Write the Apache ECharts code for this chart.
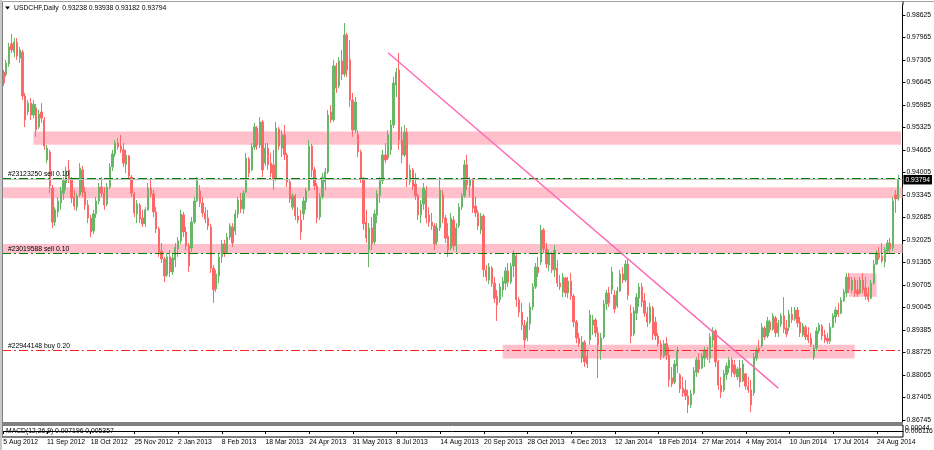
<!DOCTYPE html>
<html><head><meta charset="utf-8">
<script src="https://cdn.jsdelivr.net/npm/echarts@6/dist/echarts.min.js"></script>
<style>html,body{margin:0;padding:0;background:#fff}#c{width:934px;height:450px}</style>
</head><body><div id="c"></div>
<script>
// time-scale labels (one every 16 candles)
const dateLabels = ['5 Aug 2012','11 Sep 2012','18 Oct 2012','25 Nov 2012','2 Jan 2013','8 Feb 2013','18 Mar 2013','24 Apr 2013','31 May 2013','8 Jul 2013','14 Aug 2013','20 Sep 2013','28 Oct 2013','4 Dec 2013','12 Jan 2014','18 Feb 2014','27 Mar 2014','4 May 2014','10 Jun 2014','17 Jul 2014','24 Aug 2014'];
const labelStep = 16;
const priceTicks = ['0.98625','0.97965','0.97305','0.96645','0.95985','0.95325','0.94665','0.94005','0.93345','0.92685','0.92025','0.91365','0.90705','0.90045','0.89385','0.88725','0.88065','0.87405','0.86745'];

const opens = [
.9695,.9687,.9719,.9778,.9754,.9783,.9736,.9754,.9625,.9578,
.9604,.9569,.9590,.9534,.9578,.9555,.9437,.9461,.9355,.9255,
.9285,.9311,.9340,.9370,.9408,.9379,.9329,.9299,.9335,.9408,
.9343,.9305,.9267,.9229,.9279,.9317,.9358,.9340,.9308,.9358,
.9417,.9455,.9487,.9478,.9467,.9423,.9449,.9387,.9338,.9279,
.9305,.9267,.9250,.9291,.9355,.9338,.9285,.9235,.9170,.9147,
.9100,.9153,.9109,.9144,.9176,.9200,.9276,.9226,.9185,.9179,
.9255,.9317,.9346,.9311,.9282,.9267,.9241,.9120,.9059,.9097,
.9153,.9191,.9167,.9211,.9241,.9229,.9279,.9320,.9294,.9343,
.9440,.9408,.9475,.9531,.9481,.9549,.9428,.9472,.9428,.9423,
.9384,.9528,.9472,.9511,.9452,.9373,.9299,.9332,.9273,.9261,
.9279,.9314,.9349,.9478,.9408,.9361,.9270,.9329,.9373,.9402,
.9578,.9555,.9713,.9654,.9728,.9689,.9804,.9731,.9613,.9525,
.9511,.9461,.9384,.9255,.9173,.9238,.9197,.9276,.9332,.9376,
.9452,.9443,.9467,.9540,.9657,.9701,.9496,.9452,.9519,.9373,
.9408,.9367,.9332,.9276,.9308,.9349,.9276,.9255,.9244,.9197,
.9238,.9335,.9267,.9214,.9179,.9261,.9185,.9244,.9299,.9332,
.9423,.9361,.9379,.9302,.9282,.9232,.9273,.9115,.9085,.9120,
.9076,.9038,.9027,.9056,.9076,.9112,.9079,.9126,.9156,.9027,
.8991,.8953,.8915,.8956,.9006,.9065,.9123,.9138,.9232,.9176,
.9129,.9162,.9115,.9120,.9076,.9050,.9091,.9047,.9082,.9038,
.8962,.8915,.8856,.8903,.8862,.8909,.8953,.8968,.8930,.8880,
.8918,.9015,.9047,.9056,.9041,.9009,.9053,.9103,.9085,.9132,
.8988,.8927,.8988,.9032,.9065,.9024,.8988,.8962,.9003,.8962,
.8921,.8898,.8862,.8898,.8865,.8798,.8786,.8833,.8807,.8768,
.8763,.8745,.8719,.8754,.8815,.8851,.8827,.8856,.8880,.8856,
.8909,.8936,.8845,.8777,.8763,.8807,.8827,.8851,.8836,.8801,
.8827,.8789,.8810,.8774,.8763,.8754,.8856,.8886,.8892,.8944,
.8921,.8962,.8941,.8974,.8930,.8956,.8980,.8944,.8947,.8985,
.8971,.8997,.8962,.8924,.8947,.8924,.8915,.8859,.8886,.8936,
.8950,.8924,.8915,.8906,.8947,.8977,.8997,.8988,.9024,.9047,
.9094,.9056,.9085,.9056,.9047,.9085,.9062,.9044,.9032,.9076,
.9132,.9164,.9156,.9138,.9170,.9194,.9179,.9335,.93238];

const highs = [
.9701,.9731,.9781,.9807,.9795,.9795,.9769,.9760,.9634,.9613,
.9619,.9613,.9601,.9584,.9604,.9563,.9481,.9467,.9364,.9299,
.9329,.9358,.9387,.9417,.9437,.9387,.9349,.9340,.9428,.9420,
.9358,.9320,.9276,.9291,.9329,.9370,.9387,.9358,.9370,.9428,
.9467,.9496,.9502,.9511,.9487,.9467,.9452,.9393,.9343,.9320,
.9311,.9291,.9299,.9370,.9379,.9349,.9299,.9241,.9194,.9153,
.9164,.9173,.9164,.9194,.9211,.9291,.9285,.9241,.9194,.9270,
.9329,.9387,.9364,.9329,.9299,.9291,.9250,.9129,.9115,.9164,
.9203,.9203,.9223,.9252,.9252,.9291,.9329,.9340,.9349,.9458,
.9446,.9487,.9546,.9537,.9563,.9555,.9487,.9487,.9458,.9467,
.9549,.9534,.9525,.9540,.9458,.9379,.9340,.9338,.9299,.9291,
.9329,.9355,.9496,.9484,.9417,.9370,.9340,.9399,.9414,.9584,
.9598,.9731,.9722,.9739,.9760,.9839,.9810,.9789,.9634,.9622,
.9525,.9467,.9387,.9291,.9252,.9270,.9291,.9349,.9387,.9467,
.9487,.9525,.9555,.9681,.9707,.9751,.9534,.9540,.9531,.9423,
.9414,.9399,.9338,.9320,.9370,.9361,.9299,.9282,.9252,.9252,
.9387,.9349,.9276,.9252,.9282,.9273,.9252,.9311,.9340,.9437,
.9452,.9387,.9384,.9329,.9291,.9282,.9279,.9129,.9135,.9126,
.9094,.9056,.9076,.9094,.9123,.9135,.9135,.9173,.9162,.9035,
.9018,.8968,.8977,.9018,.9076,.9135,.9153,.9247,.9238,.9194,
.9173,.9167,.9188,.9144,.9100,.9106,.9094,.9094,.9106,.9044,
.8968,.8930,.8921,.8909,.8880,.8997,.8983,.8974,.8947,.8930,
.9027,.9056,.9065,.9123,.9056,.9065,.9115,.9123,.9144,.9150,
.9012,.9006,.9047,.9076,.9076,.9047,.9006,.9018,.9009,.8977,
.8930,.8909,.8909,.8918,.8889,.8830,.8851,.8889,.8812,.8801,
.8792,.8763,.8763,.8830,.8859,.8871,.8871,.8889,.8889,.8930,
.8947,.8941,.8851,.8801,.8821,.8842,.8859,.8859,.8851,.8830,
.8851,.8851,.8812,.8801,.8792,.8871,.8889,.8909,.8959,.8950,
.8977,.8968,.8988,.8980,.8968,.8988,.9035,.8968,.8997,.9006,
.9006,.9006,.8977,.8959,.8953,.8947,.8930,.8895,.8947,.8959,
.8956,.8939,.8930,.8959,.8988,.9006,.9018,.9035,.9059,.9106,
.9106,.9094,.9094,.9085,.9094,.9106,.9094,.9065,.9085,.9144,
.9173,.9182,.9194,.9182,.9203,.9208,.9329,.9349,.93938];

const lows = [
.9654,.9681,.9710,.9751,.9739,.9731,.9722,.9613,.9534,.9569,
.9555,.9560,.9505,.9528,.9546,.9467,.9428,.9340,.9238,.9244,
.9270,.9291,.9320,.9349,.9370,.9311,.9291,.9288,.9329,.9329,
.9291,.9252,.9211,.9220,.9267,.9308,.9329,.9291,.9302,.9352,
.9405,.9446,.9467,.9458,.9417,.9399,.9379,.9329,.9270,.9252,
.9252,.9241,.9241,.9288,.9329,.9270,.9223,.9153,.9135,.9079,
.9094,.9094,.9100,.9123,.9153,.9191,.9211,.9173,.9109,.9167,
.9250,.9314,.9299,.9270,.9252,.9232,.9106,.9018,.9050,.9076,
.9135,.9153,.9162,.9203,.9182,.9217,.9267,.9282,.9279,.9340,
.9387,.9405,.9467,.9467,.9472,.9387,.9420,.9408,.9387,.9349,
.9376,.9467,.9446,.9437,.9358,.9311,.9291,.9261,.9252,.9203,
.9261,.9291,.9346,.9387,.9349,.9252,.9261,.9323,.9349,.9396,
.9546,.9549,.9634,.9648,.9672,.9681,.9681,.9593,.9505,.9516,
.9446,.9370,.9232,.9194,.9123,.9173,.9188,.9252,.9311,.9367,
.9428,.9437,.9452,.9531,.9622,.9467,.9428,.9446,.9358,.9364,
.9349,.9320,.9261,.9252,.9291,.9252,.9241,.9232,.9173,.9188,
.9229,.9252,.9194,.9153,.9173,.9173,.9167,.9238,.9291,.9326,
.9349,.9329,.9282,.9270,.9232,.9220,.9094,.9082,.9073,.9065,
.9018,.8965,.9018,.9035,.9056,.9065,.9073,.9094,.9006,.8977,
.8939,.8886,.8906,.8939,.8997,.9059,.9094,.9129,.9164,.9120,
.9112,.9106,.9094,.9065,.9056,.9035,.9035,.9032,.9027,.8947,
.8900,.8889,.8842,.8830,.8827,.8895,.8924,.8918,.8798,.8851,
.8912,.8997,.9006,.9044,.8988,.9003,.9050,.9076,.9079,.9027,
.8900,.8921,.8968,.9006,.9006,.8977,.8947,.8956,.8909,.8909,
.8889,.8851,.8856,.8851,.8771,.8771,.8780,.8812,.8754,.8742,
.8733,.8695,.8710,.8748,.8801,.8812,.8824,.8830,.8851,.8842,
.8889,.8830,.8763,.8739,.8757,.8792,.8812,.8801,.8801,.8792,
.8771,.8786,.8763,.8754,.8698,.8745,.8848,.8871,.8886,.8909,
.8915,.8930,.8936,.8918,.8918,.8947,.8930,.8918,.8936,.8959,
.8965,.8947,.8918,.8918,.8909,.8900,.8889,.8851,.8877,.8927,
.8909,.8900,.8898,.8898,.8944,.8959,.8977,.8985,.9021,.9035,
.9047,.9047,.9035,.9035,.9044,.9047,.9027,.9021,.9029,.9071,
.9129,.9144,.9135,.9123,.9164,.9164,.9170,.9282,.93182];

const closes = [
.9663,.9722,.9769,.9760,.9783,.9742,.9760,.9625,.9555,.9604,
.9569,.9601,.9525,.9572,.9560,.9478,.9472,.9361,.9255,.9291,
.9317,.9346,.9376,.9405,.9381,.9326,.9302,.9332,.9414,.9343,
.9305,.9267,.9226,.9279,.9317,.9358,.9340,.9305,.9358,.9417,
.9455,.9487,.9475,.9467,.9428,.9452,.9390,.9340,.9282,.9308,
.9264,.9250,.9291,.9355,.9338,.9285,.9235,.9167,.9147,.9097,
.9153,.9109,.9150,.9182,.9200,.9279,.9226,.9185,.9126,.9255,
.9317,.9376,.9311,.9282,.9264,.9244,.9120,.9056,.9103,.9153,
.9191,.9164,.9211,.9244,.9194,.9279,.9320,.9294,.9340,.9443,
.9399,.9475,.9534,.9481,.9549,.9408,.9472,.9423,.9399,.9379,
.9531,.9478,.9511,.9452,.9373,.9323,.9332,.9273,.9261,.9226,
.9317,.9346,.9478,.9408,.9361,.9267,.9329,.9387,.9402,.9569,
.9555,.9713,.9648,.9728,.9689,.9804,.9701,.9613,.9525,.9607,
.9461,.9384,.9250,.9208,.9238,.9191,.9279,.9338,.9376,.9452,
.9437,.9511,.9540,.9663,.9695,.9496,.9452,.9519,.9379,.9408,
.9361,.9332,.9276,.9308,.9355,.9267,.9255,.9244,.9191,.9238,
.9349,.9267,.9208,.9173,.9267,.9185,.9238,.9299,.9332,.9423,
.9364,.9379,.9296,.9282,.9244,.9273,.9115,.9094,.9123,.9076,
.9032,.9012,.9065,.9082,.9112,.9079,.9126,.9162,.9027,.8991,
.8953,.8909,.8962,.9006,.9065,.9123,.9106,.9232,.9176,.9132,
.9164,.9115,.9173,.9076,.9065,.9094,.9047,.9082,.9038,.8962,
.8915,.8898,.8903,.8845,.8839,.8983,.8968,.8930,.8895,.8915,
.9015,.9047,.9018,.9109,.9000,.9053,.9103,.9085,.9132,.9041,
.8921,.8994,.9035,.9065,.9021,.8988,.8962,.9006,.8927,.8921,
.8898,.8862,.8898,.8865,.8792,.8780,.8839,.8877,.8766,.8754,
.8745,.8719,.8751,.8818,.8851,.8824,.8862,.8880,.8859,.8918,
.8936,.8845,.8777,.8757,.8810,.8833,.8851,.8815,.8810,.8824,
.8786,.8839,.8774,.8763,.8719,.8859,.8880,.8877,.8947,.8918,
.8965,.8939,.8980,.8930,.8959,.8980,.8941,.8927,.8985,.8968,
.8997,.8959,.8930,.8950,.8918,.8909,.8895,.8886,.8936,.8953,
.8921,.8909,.8906,.8947,.8980,.8997,.8985,.9027,.9050,.9094,
.9059,.9085,.9047,.9044,.9085,.9056,.9038,.9029,.9076,.9132,
.9164,.9150,.9141,.9173,.9194,.9176,.9317,.9323,.93794];

// pink rectangles: [startIndex|null, endIndex|null, priceTop, priceBottom]
const zoneStart = [11, null, null, 183, 310];
const zoneEnd   = [329, null, null, 312, 320];
const zoneTop   = [0.9521, 0.9357, 0.9191, 0.8895, 0.9105];
const zoneBot   = [0.9482, 0.9325, 0.9164, 0.8855, 0.9036];
// order lines
const orderPrices = [0.9384, 0.9164, 0.8879];
const orderTexts  = ['#23123250 sell 0.10', '#23019588 sell 0.10', '#22944148 buy 0.20'];
const orderColors = ['#008000', '#008000', '#ff2020'];
// trend line: [candle index, price]
const trendFrom = [141, 0.9752];
const trendTo   = [284, 0.8768];
const macdText = 'MACD(12,26,9) 0.007196 0.005357';
const macdAxisTexts = ['0.00044', '0.006116'];

const N = opens.length;
const last = N - 1;
const categories = opens.map((_, i) => String(i)).concat(['']);
const candleData = opens.map((o, i) => [o, closes[i], lows[i], highs[i]]);
const tickVals = priceTicks.map(Number);
const F = 'Liberation Sans';
const FS = 6.8;

const areas = zoneTop.map((t, i) => {
  const a = {yAxis: t}, b = {yAxis: zoneBot[i]};
  if (zoneStart[i] !== null) { a.xAxis = zoneStart[i]; b.xAxis = zoneEnd[i]; }
  return [a, b];
});

function lineSeries(data, lineStyle, label) {
  return {
    type: 'line', xAxisIndex: 0, yAxisIndex: 0, data: [], silent: true,
    markLine: {silent: true, symbol: ['none', 'none'], precision: 6, animation: false,
      lineStyle: lineStyle, label: label, data: data}
  };
}

const extraSeries = orderPrices.map((p, i) => lineSeries(
  [{yAxis: p}],
  {color: orderColors[i], width: 1, type: [9, 3, 2, 3], opacity: 1},
  {show: true, position: 'insideStartTop', formatter: orderTexts[i], color: '#000', fontSize: FS, fontFamily: F, distance: [6, 0.5]}
));
extraSeries.push(lineSeries(
  [{yAxis: closes[last]}],
  {color: '#c0c0c0', width: 1, type: 'solid', opacity: 1},
  {show: true, position: 'end', formatter: closes[last].toFixed(5), color: '#fff', backgroundColor: '#000', fontSize: FS, fontFamily: F, padding: [1.5, 2, 1, 2], distance: 1}
));
extraSeries.push(lineSeries(
  [[{coord: trendFrom}, {coord: trendTo}]],
  {color: '#ff69b4', width: 1.4, type: 'solid', opacity: 1},
  {show: false}
));

const chart = echarts.init(document.getElementById('c'));
chart.setOption({
  animation: false,
  backgroundColor: '#fff',
  textStyle: {fontFamily: F},
  grid: [
    {left: 2, right: 31, top: 5, height: 418, show: false},
    {left: 2, right: 31, top: 425, height: 12, show: true, borderColor: '#000', borderWidth: 1, backgroundColor: '#fff'}
  ],
  xAxis: [
    {type: 'category', gridIndex: 0, data: categories, boundaryGap: true, show: false},
    {type: 'category', gridIndex: 1, data: categories, boundaryGap: true,
     axisLine: {show: true, lineStyle: {color: '#000', width: 1}},
     axisTick: {show: true, alignWithLabel: true, length: 3, interval: (i) => i % labelStep === 0, lineStyle: {color: '#000'}},
     axisLabel: {show: true, interval: (i) => i % labelStep === 0, align: 'left', margin: 2, fontSize: FS, color: '#000', fontFamily: F,
       formatter: (v, i) => dateLabels[Math.round(i / labelStep)] || ''},
     splitLine: {show: false}}
  ],
  yAxis: [
    {type: 'value', gridIndex: 0, position: 'right', min: 0.86658, max: 0.98918, scale: true,
     axisLine: {show: true, lineStyle: {color: '#000', width: 1}},
     axisTick: {show: true, length: 3, customValues: tickVals, lineStyle: {color: '#000'}},
     axisLabel: {show: true, customValues: tickVals, formatter: (v) => Number(v).toFixed(5), fontSize: FS, color: '#000', margin: 4, fontFamily: F},
     splitLine: {show: false}},
    {type: 'value', gridIndex: 1, show: false, min: -1, max: 1}
  ],
  series: [{
    type: 'candlestick', xAxisIndex: 0, yAxisIndex: 0, data: candleData,
    barWidth: 1.8, z: 3,
    itemStyle: {color: '#66b866', color0: '#ff6868', borderColor: '#66b866', borderColor0: '#ff6868', borderWidth: 1},
    markArea: {silent: true, itemStyle: {color: '#ffc0cb'}, label: {show: false}, data: areas}
  }].concat(extraSeries),
  graphic: [
    {type: 'rect', shape: {x: 0, y: 0, width: 2, height: 450}, style: {fill: '#c8c8c8'}, z: 100},
    {type: 'line', shape: {x1: 2.5, y1: 2, x2: 2.5, y2: 437}, style: {stroke: '#7f7f7f', lineWidth: 1}, z: 100},
    {type: 'line', shape: {x1: 2, y1: 1.5, x2: 934, y2: 1.5}, style: {stroke: '#a0a0a0', lineWidth: 1}, z: 100},
    {type: 'line', shape: {x1: 903, y1: 1.5, x2: 903, y2: 5}, style: {stroke: '#000', lineWidth: 1}, z: 100},
    {type: 'rect', shape: {x: 2, y: 422, width: 901, height: 3}, style: {fill: '#808080'}, z: 100},
    {type: 'polygon', shape: {points: [[5, 6.5], [10, 6.5], [7.5, 9.5]]}, style: {fill: '#000'}, z: 100},
    {type: 'text', x: 14, y: 8.5, style: {text: 'USDCHF,Daily  ' + [opens[last], highs[last], lows[last], closes[last]].map(v => v.toFixed(5)).join(' '), fill: '#000', font: FS + 'px ' + F, verticalAlign: 'middle'}, z: 100},
    {type: 'text', x: 6, y: 431, style: {text: macdText, fill: '#000', font: FS + 'px ' + F, verticalAlign: 'middle'}, z: 100},
    {type: 'text', x: 905, y: 428.5, style: {text: macdAxisTexts[0], fill: '#000', font: FS + 'px ' + F, verticalAlign: 'middle'}, z: 100},
    {type: 'text', x: 905, y: 431.5, style: {text: macdAxisTexts[1], fill: '#000', font: FS + 'px ' + F, verticalAlign: 'middle'}, z: 100}
  ]
});
</script></body></html>
